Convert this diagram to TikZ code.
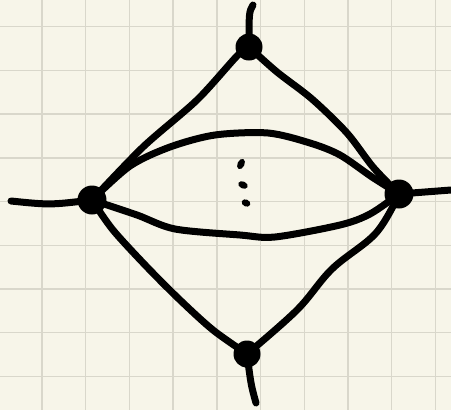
\documentclass[tikz,border=0pt]{standalone}
\usetikzlibrary{positioning}

\definecolor{paper}{RGB}{247,245,233}
\definecolor{gridcol}{RGB}{217,215,203}

\tikzset{
  vtx/.style={circle,fill=black,inner sep=0pt,minimum size=29pt},
  leg/.style={line width=7pt,line cap=round},
  gridline/.style={gridcol,line width=1.4pt}
}

\begin{document}
\begin{tikzpicture}[x=1pt,y=-1pt,line width=7pt,line cap=round,line join=round]
\fill[paper] (0,0) rectangle (451,410);
\clip (0,0) rectangle (451,410);
\foreach \i in {0,...,9} \draw[gridline] (42+43.7*\i,0)--(42+43.7*\i,410);
\foreach \j in {0,...,8} \draw[gridline] (0,26.7+43.7*\j)--(451,26.7+43.7*\j);

% vertices
\node[vtx] (l) at (92,200) {};
\node[vtx] (r) at (399,194) {};
\node[vtx,minimum size=27pt] (t) at (249,47) {};
\node[vtx,minimum size=27pt] (b) at (247,354) {};

% external legs
\coordinate (le) at (11,201);
\coordinate (re) at (451,190);
\coordinate (te) at (253,5);
\coordinate (be) at (256,403);
\draw[leg] (le) .. controls (50,205) .. (l.center);
\draw[leg] (r.center) -- (re);
\draw[leg] (t.center) .. controls (249,12) .. (te);
\draw[leg] (b.center) .. controls (251,385) .. (be);

% outer edges
\draw plot[smooth,tension=0.5] coordinates {(l.center) (143,147) (197,100) (237,56) (t.center)};
\draw plot[smooth,tension=0.5] coordinates {(t.center) (277,72) (312,99) (347,133) (373,167) (r.center)};
\draw plot[smooth,tension=0.5] coordinates {(l.center) (113,230) (147,267) (180,300) (213,330) (b.center)};
\draw plot[smooth,tension=0.6] coordinates {(b.center) (297,310) (332,269) (376,233) (r.center)};

% the two arcs
\draw plot[smooth,tension=0.5] coordinates {(l.center) (130,166) (170,147) (215,135) (268,133) (310,143) (340,155) (372,177) (r.center)};
\draw plot[smooth,tension=0.5] coordinates {(l.center) (137,215) (175,229) (240,235) (275,237) (340,225) (370,214) (r.center)};

% dots
\fill[shift={(241,164)},rotate=-25] (0,0) ellipse (3.5 and 5.5);
\fill[shift={(243,185)},rotate=-25] (0,0) ellipse (5 and 3.5);
\fill[shift={(246,203)},rotate=-25] (0,0) ellipse (4.5 and 3.5);
\end{tikzpicture}
\end{document}
